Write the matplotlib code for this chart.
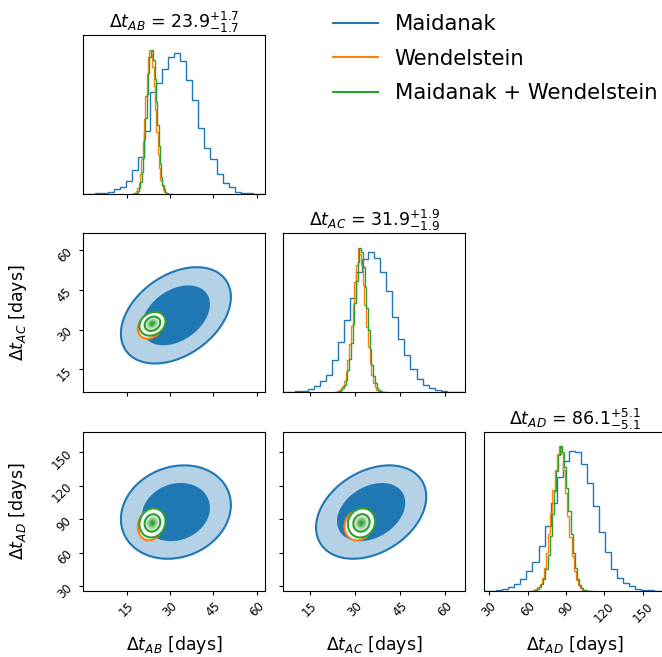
import numpy as np
import matplotlib.pyplot as plt
from matplotlib.colors import LinearSegmentedColormap, to_rgba
from matplotlib.lines import Line2D

# --- datos ---
params = ["AB", "AC", "AD"]
lims = {"AB": (0.0, 62.8), "AC": (6.3, 66.5), "AD": (25.9, 167.9)}
ticks = {"AB": [15, 30, 45, 60], "AC": [15, 30, 45, 60], "AD": [30, 60, 90, 120, 150]}
titulos = {"AB": (23.9, 1.7, 1.7), "AC": (31.9, 1.9, 1.9), "AD": (86.1, 5.1, 5.1)}

nombres = ["Maidanak", "Wendelstein", "Maidanak + Wendelstein"]
colores = ["C0", "C1", "C2"]

# histogramas (altura relativa por bin, 30 bins) y rango de cada uno
rango_maid = {"AB": (0.0, 62.8), "AC": (6.3, 66.5), "AD": (25.9, 167.9)}
rango_wend = {"AB": (16.8, 30.8), "AC": (23.0, 40.0), "AD": (61.0, 111.0)}
rango_comb = {"AB": (17.4, 31.0), "AC": (23.6, 40.6), "AD": (62.5, 111.5)}

hist_maid_ab = [0.0, 0.003, 0.006, 0.01, 0.015, 0.035, 0.05, 0.09, 0.17, 0.26,
                0.44, 0.71, 0.77, 0.87, 0.95, 0.98, 0.92, 0.79, 0.65, 0.46,
                0.32, 0.24, 0.14, 0.075, 0.05, 0.016, 0.01, 0.006, 0.004, 0.002]
hist_maid_ac = [0.0, 0.002, 0.005, 0.01, 0.02, 0.04, 0.075, 0.12, 0.22, 0.35,
                0.5, 0.65, 0.83, 0.92, 0.97, 0.93, 0.83, 0.7, 0.52, 0.37,
                0.26, 0.16, 0.09, 0.05, 0.03, 0.012, 0.006, 0.003, 0.001, 0.0]
hist_maid_ad = [0.0, 0.002, 0.004, 0.01, 0.025, 0.045, 0.08, 0.14, 0.2, 0.31,
                0.45, 0.61, 0.79, 0.9, 0.97, 0.96, 0.88, 0.75, 0.59, 0.41,
                0.27, 0.15, 0.09, 0.055, 0.03, 0.015, 0.006, 0.003, 0.001, 0.0]

hist_wend_ab = [0.002, 0.005, 0.01, 0.02, 0.04, 0.08, 0.14, 0.24, 0.36, 0.52,
                0.68, 0.83, 0.95, 1.0, 0.97, 0.88, 0.75, 0.58, 0.43, 0.28,
                0.18, 0.1, 0.055, 0.027, 0.012, 0.005, 0.002, 0.001, 0.0, 0.0]
hist_wend_ac = [0.0, 0.003, 0.006, 0.012, 0.025, 0.045, 0.08, 0.14, 0.22, 0.33,
                0.46, 0.6, 0.76, 0.88, 1.0, 0.96, 0.88, 0.74, 0.6, 0.45,
                0.31, 0.2, 0.12, 0.065, 0.035, 0.016, 0.007, 0.003, 0.001, 0.0]
hist_wend_ad = [0.0, 0.002, 0.005, 0.012, 0.025, 0.05, 0.09, 0.16, 0.26, 0.39,
                0.54, 0.7, 0.84, 0.95, 1.0, 0.95, 0.84, 0.68, 0.52, 0.37,
                0.24, 0.14, 0.075, 0.038, 0.017, 0.007, 0.003, 0.001, 0.0, 0.0]

hist_comb_ab = [0.002, 0.005, 0.01, 0.022, 0.045, 0.085, 0.15, 0.25, 0.38, 0.53,
                0.69, 0.84, 0.95, 0.99, 1.0, 0.93, 0.8, 0.64, 0.48, 0.33,
                0.21, 0.12, 0.065, 0.032, 0.015, 0.006, 0.002, 0.001, 0.0, 0.0]
hist_comb_ac = [0.0, 0.003, 0.007, 0.013, 0.027, 0.05, 0.085, 0.15, 0.23, 0.34,
                0.47, 0.62, 0.77, 0.9, 1.0, 0.97, 0.87, 0.73, 0.58, 0.43,
                0.3, 0.19, 0.11, 0.06, 0.03, 0.014, 0.006, 0.002, 0.001, 0.0]
hist_comb_ad = [0.0, 0.002, 0.005, 0.011, 0.023, 0.046, 0.085, 0.15, 0.25, 0.38,
                0.53, 0.69, 0.83, 0.94, 1.0, 0.96, 0.86, 0.71, 0.55, 0.39,
                0.26, 0.16, 0.085, 0.042, 0.02, 0.008, 0.003, 0.001, 0.0, 0.0]

# contornos 2D: centro, ancho y correlacion (AB-AC, AB-AD, AC-AD)
centro_maid = [32.0, 35.4, 96.3]
sigma_maid = [7.6, 7.3, 16.7]
rho_maid = [0.38, 0.15, 0.33]
centro_wend = [23.1, 31.2, 84.5]
sigma_wend = [1.7, 1.85, 5.4]
rho_wend = [0.2, 0.1, 0.1]
centro_comb = [23.9, 32.2, 86.6]
sigma_comb = [1.8, 1.8, 5.2]
rho_comb = [0.2, 0.1, 0.1]
niveles_r = [1.5, 2.5]

hists = [
    (rango_maid, {"AB": hist_maid_ab, "AC": hist_maid_ac, "AD": hist_maid_ad}),
    (rango_wend, {"AB": hist_wend_ab, "AC": hist_wend_ac, "AD": hist_wend_ad}),
    (rango_comb, {"AB": hist_comb_ab, "AC": hist_comb_ac, "AD": hist_comb_ad}),
]
gauss = [(centro_maid, sigma_maid, rho_maid),
         (centro_wend, sigma_wend, rho_wend),
         (centro_comb, sigma_comb, rho_comb)]
par_rho = {(0, 1): 0, (0, 2): 1, (1, 2): 2}


def campo(xx, yy, mx, my, sx, sy, rho):
    """Densidad gaussiana 2D (sin normalizar)."""
    dx = (xx - mx) / sx
    dy = (yy - my) / sy
    d2 = (dx**2 - 2 * rho * dx * dy + dy**2) / (1 - rho**2)
    return np.exp(-0.5 * d2)


W, H = 662, 657
fig = plt.figure(figsize=(W / 100, H / 100), dpi=100)

col_izq = [83.3, 283.3, 484.0]
fila_sup = [35.3, 233.3, 432.0]
ancho, alto = 181.7, 158.8

niveles = np.sort(np.exp(-0.5 * np.array(niveles_r)**2))

for i in range(3):
    for j in range(i + 1):
        ax = fig.add_axes([col_izq[j] / W, 1 - (fila_sup[i] + alto) / H, ancho / W, alto / H])
        px, py = params[j], params[i]
        ax.set_xlim(lims[px])
        ax.set_xticks(ticks[px])
        if i == j:
            vmax = 0
            for k, (rangos, valores) in enumerate(hists):
                v = valores[px]
                edges = np.linspace(rangos[px][0], rangos[px][1], len(v) + 1)
                ax.stairs(v, edges, color=colores[k], lw=1.0)
                vmax = max(vmax, max(v))
            ax.set_ylim(0, 1.1 * vmax)
            ax.set_yticks([])
            m, up, lo = titulos[px]
            ax.set_title(r"$\Delta t_{%s}$ = $%.1f_{-%.1f}^{+%.1f}$" % (px, m, lo, up),
                         fontsize=12.5, pad=4)
        else:
            ax.set_ylim(lims[py])
            ax.set_yticks(ticks[py])
            xs = np.linspace(lims[px][0], lims[px][1], 300)
            ys = np.linspace(lims[py][0], lims[py][1], 300)
            xx, yy = np.meshgrid(xs, ys)
            r = par_rho[(j, i)]
            for k, (cen, sig, rho) in enumerate(gauss):
                z = campo(xx, yy, cen[j], cen[i], sig[j], sig[i], rho[r])
                c = to_rgba(colores[k])
                zb = 1 + 3 * k
                if k == 0:
                    ax.contourf(xx, yy, z, [niveles[0], niveles[1], 1.01],
                                colors=[(c[0], c[1], c[2], 1 / 3), c], zorder=zb)
                else:
                    ax.contourf(xx, yy, z, [niveles[0], 1.01], colors=["white"], zorder=zb)
                    cmap = LinearSegmentedColormap.from_list("dens", [(1, 1, 1, 0), c])
                    ax.imshow(z, extent=[xs[0], xs[-1], ys[0], ys[-1]], origin="lower",
                              cmap=cmap, vmin=0.05, vmax=1.0, aspect="auto", zorder=zb + 1)
                ax.contour(xx, yy, z, niveles, colors=[colores[k]], linewidths=1.5,
                           zorder=zb + 2)

        ax.tick_params(labelsize=8.5, length=3, width=0.8)
        if i == 2:
            for lab in ax.get_xticklabels():
                lab.set_rotation(45)
            ax.set_xlabel(r"$\Delta t_{%s}$ [days]" % px, fontsize=12.5)
            ax.xaxis.set_label_coords(0.5, -0.27)
        else:
            ax.set_xticklabels([])
        if j == 0 and i > 0:
            for lab in ax.get_yticklabels():
                lab.set_rotation(45)
            ax.set_ylabel(r"$\Delta t_{%s}$ [days]" % py, fontsize=12.5)
            ax.yaxis.set_label_coords(-0.30, 0.5)
        elif i != j:
            ax.set_yticklabels([])

handles = [Line2D([], [], color=c, lw=1.5) for c in colores]
fig.legend(handles, nombres, loc="upper left", bbox_to_anchor=(325 / W, 1 - 6 / H),
           frameon=False, fontsize=15.2, handlelength=2.1, handletextpad=0.8,
           labelspacing=0.68, borderaxespad=0.0)

fig.savefig("out.png", dpi=100)
